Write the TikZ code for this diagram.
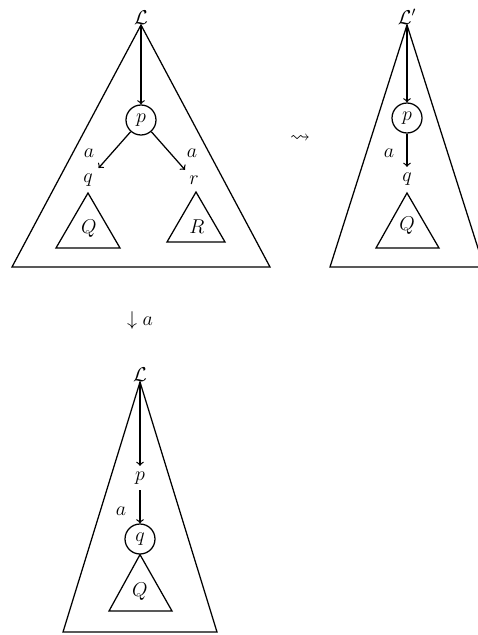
\documentclass[tikz,border=0pt]{standalone}
\usepackage{amsmath}
\usepackage{amssymb}
\usepackage{tikz}
\usetikzlibrary{arrows,positioning}

\begin{document}
\begin{tikzpicture}[x=0.6pt, y=-0.6pt, font=\large]
\tikzstyle{state} = [circle, draw, line width=0.75pt, minimum size=18pt, inner sep=0pt]
\tikzstyle{root} = [inner sep=0.3pt]
\tikzstyle{tree} = [line width=0.75pt]
\tikzstyle{arrow} = [line width=0.75pt,->]

\useasboundingbox (0,0) rectangle (478,635);

% before the step
\coordinate (top1) at (141,25);
\node (L1) [root, above=0pt of top1] {$\mathcal{L}$};
\draw [tree] (top1) -- (12,267) -- (270,267) -- cycle;
\node (p1) [state] at (141,120) {$p$};
\node (q1) at (88,180) {$q$};
\node (r1) at (194,180) {$r$};
\node (a1) at (89,153) {$a$};
\node (b1) at (192,153) {$a$};
\draw [tree] (88,193) -- (56,248) -- (120,248) -- cycle;
\node (Q1) at (89,229) {$Q$};
\draw [tree] (196,192) -- (167,242) -- (225,242) -- cycle;
\node (R1) at (197,227) {$R$};
\draw [arrow] (top1) -- (p1);
\draw [arrow] (p1) -- (q1);
\draw [arrow] (p1) -- (r1);

\node (lead) at (300,139) {$\leadsto$};

% after the step
\coordinate (top2) at (407,25);
\node (L2) [root, above=0pt of top2] {$\mathcal{L}'$};
\draw [tree] (top2) -- (330,267) -- (484,267) -- cycle;
\node (p2) [state] at (407,118) {$p$};
\node (q2) at (407,179) {$q$};
\node (a2) at (389,153) {$a$};
\draw [tree] (407,193) -- (376,248) -- (439,248) -- cycle;
\node (Q2) at (407,226) {$Q$};
\draw [arrow] (top2) -- (p2);
\draw [arrow] (p2) -- (q2);

\node (down) at (140,320) {$\downarrow a$};

% below
\coordinate (top3) at (140,382);
\node (L3) [root, above=0pt of top3] {$\mathcal{L}$};
\draw [tree] (top3) -- (63,632) -- (217,632) -- cycle;
\node (p3) at (140,478) {$p$};
\node (q3) [state] at (140,539) {$q$};
\node (a3) at (121,511) {$a$};
\draw [tree] (q3.south) -- (109,611) -- (172,611) -- cycle;
\node (Q3) at (140,592) {$Q$};
\draw [arrow] (top3) -- (p3);
\draw [arrow] (p3) -- (q3);
\end{tikzpicture}
\end{document}
